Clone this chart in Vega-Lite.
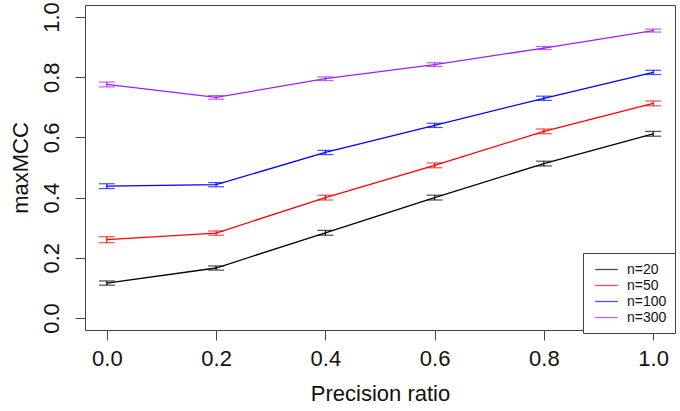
{
  "$schema": "https://vega.github.io/schema/vega-lite/v6.json",
  "width": 590,
  "height": 325,
  "autosize": {"type": "none"},
  "padding": {"left": 85, "top": 5, "right": 5, "bottom": 81},
  "background": "white",
  "config": {
    "view": {"stroke": "#444", "strokeWidth": 1},
    "font": "Liberation Sans",
    "axis": {
      "domain": false,
      "grid": false,
      "tickColor": "#444",
      "tickSize": 10,
      "labelFont": "Liberation Sans",
      "labelFontSize": 22,
      "labelColor": "#111",
      "titleFont": "Liberation Sans",
      "titleFontSize": 22,
      "titleFontWeight": "normal",
      "titleColor": "#111"
    }
  },
  "data": {
    "values": [
      {"p": 0.0, "n": "n=20", "v": 0.116, "lo": 0.109, "hi": 0.123},
      {"p": 0.2, "n": "n=20", "v": 0.166, "lo": 0.159, "hi": 0.173},
      {"p": 0.4, "n": "n=20", "v": 0.283, "lo": 0.275, "hi": 0.291},
      {"p": 0.6, "n": "n=20", "v": 0.400, "lo": 0.392, "hi": 0.408},
      {"p": 0.8, "n": "n=20", "v": 0.513, "lo": 0.505, "hi": 0.521},
      {"p": 1.0, "n": "n=20", "v": 0.612, "lo": 0.604, "hi": 0.620},
      {"p": 0.0, "n": "n=50", "v": 0.260, "lo": 0.250, "hi": 0.270},
      {"p": 0.2, "n": "n=50", "v": 0.282, "lo": 0.275, "hi": 0.289},
      {"p": 0.4, "n": "n=50", "v": 0.400, "lo": 0.392, "hi": 0.408},
      {"p": 0.6, "n": "n=50", "v": 0.507, "lo": 0.499, "hi": 0.515},
      {"p": 0.8, "n": "n=50", "v": 0.620, "lo": 0.612, "hi": 0.628},
      {"p": 1.0, "n": "n=50", "v": 0.713, "lo": 0.705, "hi": 0.721},
      {"p": 0.0, "n": "n=100", "v": 0.438, "lo": 0.430, "hi": 0.446},
      {"p": 0.2, "n": "n=100", "v": 0.443, "lo": 0.436, "hi": 0.450},
      {"p": 0.4, "n": "n=100", "v": 0.550, "lo": 0.543, "hi": 0.557},
      {"p": 0.6, "n": "n=100", "v": 0.640, "lo": 0.633, "hi": 0.647},
      {"p": 0.8, "n": "n=100", "v": 0.730, "lo": 0.723, "hi": 0.737},
      {"p": 1.0, "n": "n=100", "v": 0.816, "lo": 0.809, "hi": 0.823},
      {"p": 0.0, "n": "n=300", "v": 0.776, "lo": 0.768, "hi": 0.784},
      {"p": 0.2, "n": "n=300", "v": 0.733, "lo": 0.727, "hi": 0.739},
      {"p": 0.4, "n": "n=300", "v": 0.795, "lo": 0.789, "hi": 0.801},
      {"p": 0.6, "n": "n=300", "v": 0.842, "lo": 0.836, "hi": 0.848},
      {"p": 0.8, "n": "n=300", "v": 0.897, "lo": 0.892, "hi": 0.902},
      {"p": 1.0, "n": "n=300", "v": 0.955, "lo": 0.950, "hi": 0.960}
    ]
  },
  "encoding": {
    "x": {
      "field": "p", "type": "quantitative",
      "scale": {"domain": [-0.04, 1.04], "nice": false, "zero": false},
      "axis": {"values": [0, 0.2, 0.4, 0.6, 0.8, 1.0], "format": ".1f", "title": "Precision ratio", "labelPadding": 8, "titlePadding": 14}
    },
    "color": {
      "field": "n", "type": "nominal",
      "scale": {"domain": ["n=20", "n=50", "n=100", "n=300"], "range": ["#000000", "#FF0000", "#0000FF", "#A020F0"]},
      "legend": {
        "title": null,
        "orient": "none",
        "legendX": 498,
        "legendY": 248,
        "symbolType": "M-1.5,0H1.5",
        "symbolSize": 230,
        "symbolStrokeWidth": 1.3,
        "symbolOffset": 7,
        "labelFontSize": 14,
        "labelFont": "Liberation Sans",
        "labelColor": "#111",
        "labelOffset": 12,
        "rowPadding": 0,
        "padding": 8,
        "strokeColor": "#444",
        "fillColor": "white"
      }
    }
  },
  "layer": [
    {
      "mark": {"type": "line", "strokeWidth": 1.3},
      "encoding": {
        "y": {
          "field": "v", "type": "quantitative",
          "scale": {"domain": [-0.04, 1.04], "nice": false, "zero": false},
          "axis": {"values": [0, 0.2, 0.4, 0.6, 0.8, 1.0], "format": ".1f", "title": "maxMCC", "labelAngle": -90, "labelAlign": "center", "labelBaseline": "bottom", "labelPadding": 12, "titlePadding": 8}
        }
      }
    },
    {
      "mark": {"type": "rule", "strokeWidth": 1.2},
      "encoding": {
        "y": {"field": "lo", "type": "quantitative"},
        "y2": {"field": "hi"}
      }
    },
    {
      "mark": {"type": "tick", "orient": "horizontal", "size": 16, "thickness": 1.2},
      "encoding": {"y": {"field": "lo", "type": "quantitative"}}
    },
    {
      "mark": {"type": "tick", "orient": "horizontal", "size": 16, "thickness": 1.2},
      "encoding": {"y": {"field": "hi", "type": "quantitative"}}
    }
  ]
}
